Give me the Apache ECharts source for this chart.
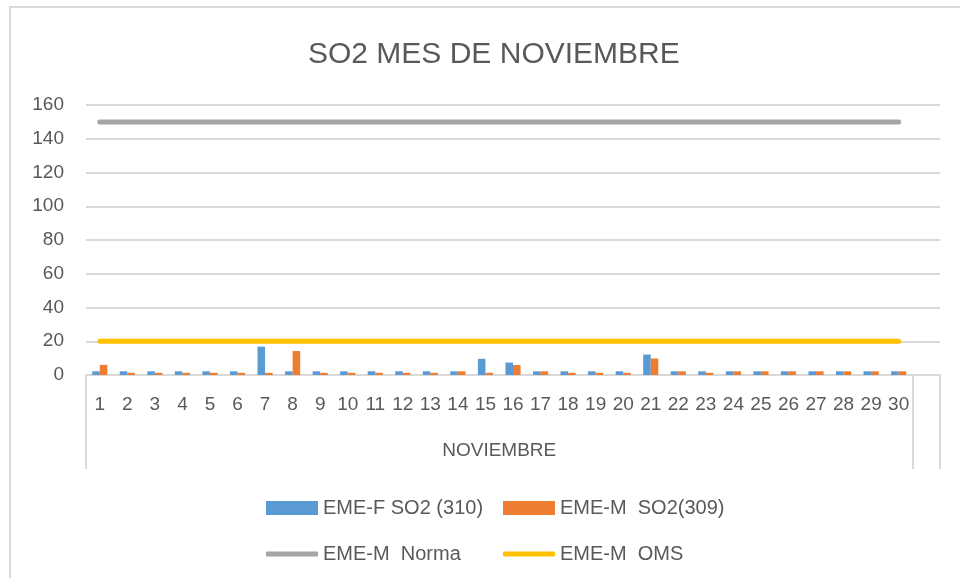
<!DOCTYPE html>
<html>
<head>
<meta charset="utf-8">
<script src="https://cdn.jsdelivr.net/npm/echarts@6/dist/echarts.min.js"></script>
<style>
  html, body { margin: 0; padding: 0; background: #fff; }
  #chart { width: 960px; height: 578px; }
</style>
</head>
<body>
<div id="chart"></div>
<script>
var days = ['1','2','3','4','5','6','7','8','9','10','11','12','13','14','15',
            '16','17','18','19','20','21','22','23','24','25','26','27','28','29','30', ''];
var emeF = [2.2,2.2,2.2,2.2,2.2,2.2,16.8,2.2,2.2,2.2,2.2,2.2,2.2,2.2,9.6,
            7.4,2.2,2.2,2.2,2.2,12.1,2.2,2.2,2.2,2.2,2.2,2.2,2.2,2.2,2.2, null];
var emeM = [6,1.3,1.3,1.3,1.3,1.3,1.3,14.2,1.3,1.3,1.3,1.3,1.3,2.2,1.3,
            5.9,2.2,1.3,1.3,1.3,9.8,2.2,1.3,2.2,2.2,2.2,2.2,2.2,2.2,2.2, null];
var norma = [150,150,150,150,150,150,150,150,150,150,150,150,150,150,150,
             150,150,150,150,150,150,150,150,150,150,150,150,150,150,150, null];
var oms = [20,20,20,20,20,20,20,20,20,20,20,20,20,20,20,
           20,20,20,20,20,20,20,20,20,20,20,20,20,20,20, null];
var names = ['EME-F SO2 (310)', 'EME-M  SO2(309)', 'EME-M  Norma', 'EME-M  OMS'];
var colors = ['#5B9BD5', '#ED7D31', '#A5A5A5', '#FFC000'];

(function() {
    var myChart = echarts.init(document.getElementById('chart'));
    var font = 'Liberation Sans';
    var txt = '#595959';
    var legendText = { fontFamily: font, fontSize: 20, color: txt };

    // one legend per item so the two columns line up like in Excel
    var legendPos = [[261, 493], [498, 493], [261, 539], [498, 539]];
    var legends = names.map(function(n, i) {
        var isLine = i >= 2;
        return {
            data: [n],
            left: legendPos[i][0], top: legendPos[i][1],
            itemWidth: 52, itemHeight: isLine ? 5 : 14,
            icon: isLine ? 'roundRect' : 'rect',
            itemGap: 0,
            textStyle: legendText
        };
    });

    var option = {
        color: colors,
        animation: false,
        title: {
            text: 'SO2 MES DE NOVIEMBRE',
            left: 303,
            top: 35,
            textStyle: { fontFamily: font, fontSize: 30, fontWeight: 'normal', color: txt }
        },
        graphic: [{
            type: 'rect',
            shape: { x: 10, y: 7, width: 960, height: 600 },
            style: { fill: 'none', stroke: '#D9D9D9', lineWidth: 2 },
            silent: true
        }],
        legend: legends,
        grid: { left: 86, right: 20, top: 105, bottom: 203, containLabel: false },
        xAxis: [{
            type: 'category',
            data: days,
            axisLine: { lineStyle: { color: '#D9D9D9', width: 2 } },
            axisTick: { show: false },
            axisLabel: { interval: 0, margin: 20, fontFamily: font, fontSize: 19, color: txt }
        }, {
            type: 'value',
            position: 'bottom',
            min: 0, max: 31,
            axisLine: { show: false },
            splitLine: { show: false },
            axisTick: { show: true, customValues: [0, 30, 31], length: 94,
                        lineStyle: { color: '#D9D9D9', width: 2 } },
            axisLabel: { customValues: [15], margin: 66, formatter: function() { return 'NOVIEMBRE'; },
                         fontFamily: font, fontSize: 19, color: txt }
        }],
        yAxis: {
            type: 'value',
            min: 0, max: 160, interval: 20,
            axisLine: { show: false },
            axisTick: { show: false },
            splitLine: { lineStyle: { color: '#D9D9D9', width: 2 } },
            axisLabel: { margin: 22, fontFamily: font, fontSize: 19, color: txt }
        },
        series: [
            { name: names[0], type: 'bar', data: emeF, barGap: '0%', barCategoryGap: '45%' },
            { name: names[1], type: 'bar', data: emeM, barGap: '0%', barCategoryGap: '45%' },
            { name: names[2], type: 'line', data: norma, symbol: 'none',
              lineStyle: { width: 5, cap: 'round' } },
            { name: names[3], type: 'line', data: oms, symbol: 'none',
              lineStyle: { width: 5, cap: 'round' } }
        ]
    };
    myChart.setOption(option);
    window.addEventListener('resize', function() { myChart.resize(); });
})();
</script>
</body>
</html>
